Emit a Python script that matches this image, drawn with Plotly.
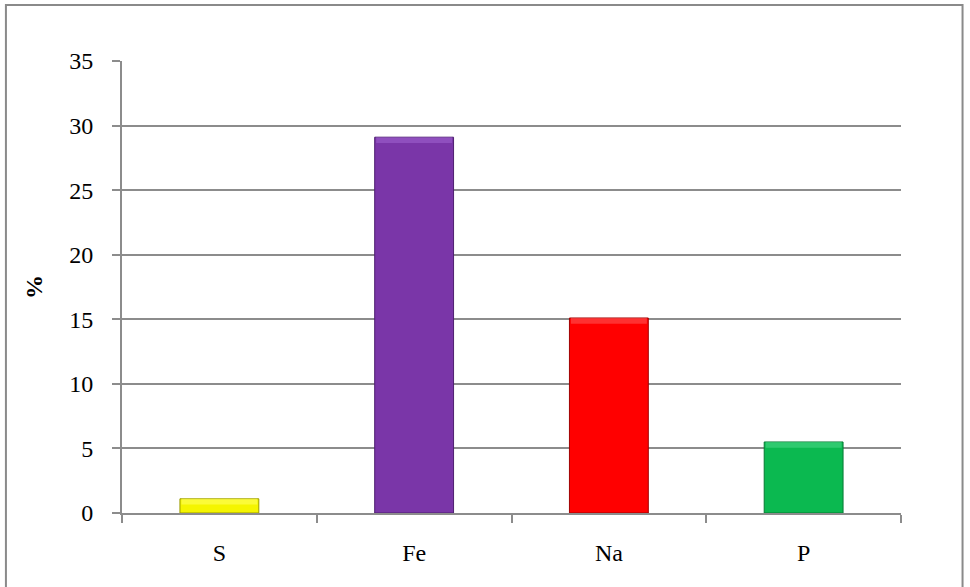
import plotly.graph_objects as go

# Element share, percent
elements = ["S", "Fe", "Na", "P"]
percent = [1.1, 29.1, 15.1, 5.5]
bar_colors = ["#f5f500", "#7a36a8", "#ff0000", "#0bb950"]
edge_colors = ["#9a9a00", "#4e1f70", "#a00000", "#067a33"]
highlight_colors = ["#ffff66", "#a064d0", "#ff5a5a", "#4fd888"]
y_ticks = [0, 5, 10, 15, 20, 25, 30, 35]

# thickness of the lighter bevel strip along each bar's top, in axis units
bevel = 0.45
bevel_base = [max(v - bevel, 0) for v in percent]
bevel_height = [v - b for v, b in zip(percent, bevel_base)]

fig = go.Figure()
fig.add_trace(go.Bar(
    x=elements,
    y=percent,
    width=0.405,
    marker=dict(color=bar_colors, line=dict(color=edge_colors, width=1)),
    hoverinfo="x+y",
))
fig.add_trace(go.Bar(
    x=elements,
    y=bevel_height,
    base=bevel_base,
    width=0.39,
    marker=dict(color=highlight_colors, line=dict(width=0), opacity=0.55),
    hoverinfo="skip",
))

font_family = "Liberation Serif, DejaVu Serif, serif"
fig.update_layout(
    width=970,
    height=587,
    margin=dict(l=122, r=69, t=61, b=74),
    paper_bgcolor="white",
    plot_bgcolor="white",
    showlegend=False,
    barmode="overlay",
    font=dict(family=font_family, size=24, color="black"),
    shapes=[dict(
        type="rect", xref="paper", yref="paper",
        x0=-0.149, x1=1.079, y0=-0.3, y1=1.124,
        line=dict(color="#8a8a8a", width=2), fillcolor="rgba(0,0,0,0)",
        layer="below",
    )],
)
fig.update_xaxes(
    type="category",
    showline=True, linecolor="#8c8c8c", linewidth=2,
    ticks="outside", tickson="boundaries", ticklen=8, tickwidth=2, tickcolor="#8c8c8c",
    showgrid=False,
    ticklabelstandoff=17,
    tickfont=dict(family=font_family, size=24),
)
fig.update_yaxes(
    range=[0, 35],
    tickvals=y_ticks,
    showline=True, linecolor="#8c8c8c", linewidth=2,
    ticks="outside", ticklen=8, tickwidth=2, tickcolor="#8c8c8c",
    showgrid=True, gridcolor="#8c8c8c", gridwidth=1.5,
    zeroline=False,
    ticklabelstandoff=14,
    tickfont=dict(family=font_family, size=24),
    title=dict(text="<b>%</b>", font=dict(family=font_family, size=24), standoff=20),
)

fig.write_html("out.html")
